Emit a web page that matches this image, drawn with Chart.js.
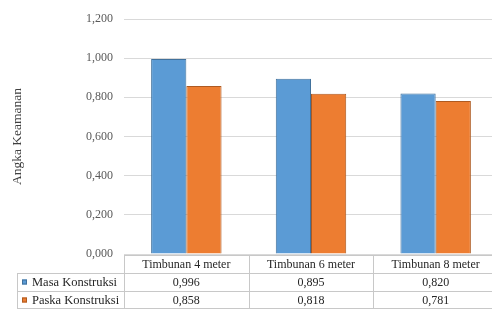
<!DOCTYPE html>
<html>
<head>
<meta charset="utf-8">
<script src="https://cdn.jsdelivr.net/npm/chart.js@4"></script>
<style>
  html, body { margin: 0; padding: 0; background: #fff; overflow: hidden; }
  #wrap { width: 498px; height: 309px; }
</style>
</head>
<body>
<div id="wrap"><canvas id="chart" width="498" height="309"></canvas></div>
<script>
// data
const categories = ['Timbunan 4 meter', 'Timbunan 6 meter', 'Timbunan 8 meter'];
const seriesNames = ['Masa Konstruksi', 'Paska Konstruksi'];
const masaKonstruksi = [0.996, 0.895, 0.820];
const paskaKonstruksi = [0.858, 0.818, 0.781];
const yTicks = [0, 0.2, 0.4, 0.6, 0.8, 1.0, 1.2];

const fillColors = ['#5b9bd5', '#ed7d31'];
const edgeColors = ['#41719c', '#ae5a21'];
const serif = '"Liberation Serif", "Times New Roman", serif';

function fmt(v) {
    return v.toFixed(3).replace('.', ',');
}

// draws the Excel style data table under the plot
const dataTable = {
    id: 'dataTable',
    afterDraw(chart) {
        const ctx = chart.ctx;
        const x = chart.scales.x;
        const area = chart.chartArea;
        const colW = (area.right - area.left) / categories.length;
        const top = area.bottom + 1;
        const rowH = 18;
        const rows = [top, top + rowH, top + rowH * 2, top + rowH * 3];
        const headLeft = 17;

        ctx.save();
        ctx.strokeStyle = '#c8c8c8';
        ctx.lineWidth = 1;
        ctx.beginPath();
        // header top
        ctx.moveTo(area.left, rows[0] + 0.5); ctx.lineTo(area.right, rows[0] + 0.5);
        // row lines
        ctx.moveTo(headLeft, rows[1] + 0.5); ctx.lineTo(area.right, rows[1] + 0.5);
        ctx.moveTo(headLeft, rows[2] + 0.5); ctx.lineTo(area.right, rows[2] + 0.5);
        ctx.moveTo(headLeft, rows[3] - 0.5); ctx.lineTo(area.right, rows[3] - 0.5);
        // verticals
        for (let i = 0; i <= categories.length; i++) {
            const vx = Math.round(area.left + colW * i) + 0.5;
            ctx.moveTo(vx, rows[0]); ctx.lineTo(vx, rows[3]);
        }
        ctx.moveTo(headLeft + 0.5, rows[1]); ctx.lineTo(headLeft + 0.5, rows[3]);
        ctx.stroke();

        ctx.font = '12px ' + serif;
        ctx.fillStyle = '#262626';
        ctx.textAlign = 'center';
        ctx.textBaseline = 'middle';
        const values = [masaKonstruksi, paskaKonstruksi];
        categories.forEach(function(c, i) {
            const cx = x.getPixelForValue(i);
            ctx.fillText(c, cx, (rows[0] + rows[1]) / 2 + 1);
            ctx.fillText(fmt(values[0][i]), cx, (rows[1] + rows[2]) / 2 + 1);
            ctx.fillText(fmt(values[1][i]), cx, (rows[2] + rows[3]) / 2 + 1);
        });

        ctx.textAlign = 'left';
        ctx.font = '12.5px ' + serif;
        seriesNames.forEach(function(name, k) {
            const cy = (rows[k + 1] + rows[k + 2]) / 2;
            ctx.fillStyle = fillColors[k];
            ctx.fillRect(22, cy - 2.5, 5, 5);
            ctx.strokeStyle = edgeColors[k];
            ctx.strokeRect(22.5, cy - 2, 4, 4);
            ctx.fillStyle = '#262626';
            ctx.fillText(name, 32, cy + 1);
        });
        ctx.restore();
    }
};

new Chart(document.getElementById('chart'), {
    type: 'bar',
    data: {
        labels: categories,
        datasets: [{
            label: seriesNames[0],
            data: masaKonstruksi,
            backgroundColor: fillColors[0],
            borderColor: edgeColors[0],
            borderWidth: 1
        }, {
            label: seriesNames[1],
            data: paskaKonstruksi,
            backgroundColor: fillColors[1],
            borderColor: edgeColors[1],
            borderWidth: 1
        }]
    },
    options: {
        responsive: false,
        animation: false,
        layout: { padding: { top: 19, right: 0, bottom: 0, left: 0 } },
        categoryPercentage: 0.565,
        barPercentage: 1,
        plugins: {
            legend: { display: false },
            tooltip: { enabled: false }
        },
        scales: {
            x: {
                ticks: { display: false },
                grid: { display: false },
                border: { display: false },
                afterFit: function(s) { s.height = 55; }
            },
            y: {
                min: 0,
                max: 1.2,
                afterBuildTicks: function(s) {
                    s.ticks = yTicks.map(function(v) { return { value: v }; });
                },
                ticks: {
                    padding: 11,
                    color: '#595959',
                    font: { family: serif, size: 12 },
                    callback: function(v) { return fmt(v); }
                },
                grid: { color: '#d9d9d9', drawTicks: false },
                border: { display: false },
                title: {
                    display: true,
                    text: 'Angka Keamanan',
                    color: '#404040',
                    font: { family: serif, size: 13.5 },
                    padding: { top: 9, bottom: 0 }
                },
                afterFit: function(s) { s.width = 124; }
            }
        }
    },
    plugins: [dataTable]
});
</script>
</body>
</html>
